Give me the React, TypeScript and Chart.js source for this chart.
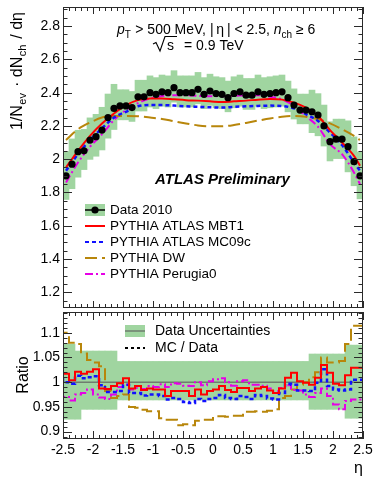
import React, { useEffect, useRef } from "react";
import { Chart, registerables } from "chart.js";

Chart.register(...registerables);

// ---------------- data ----------------
const ETA_BINS = [
  -2.45, -2.35, -2.25, -2.15, -2.05, -1.95, -1.85, -1.75, -1.65, -1.55,
  -1.45, -1.35, -1.25, -1.15, -1.05, -0.95, -0.85, -0.75, -0.65, -0.55,
  -0.45, -0.35, -0.25, -0.15, -0.05, 0.05, 0.15, 0.25, 0.35, 0.45,
  0.55, 0.65, 0.75, 0.85, 0.95, 1.05, 1.15, 1.25, 1.35, 1.45,
  1.55, 1.65, 1.75, 1.85, 1.95, 2.05, 2.15, 2.25, 2.35, 2.45,
];
const BIN_WIDTH = 0.1;

const DATA_2010 = [
  1.9, 1.97, 2.045, 2.05, 2.115, 2.135, 2.175, 2.25, 2.305, 2.32,
  2.32, 2.31, 2.375, 2.375, 2.4, 2.39, 2.405, 2.4, 2.43, 2.4,
  2.4, 2.4, 2.42, 2.39, 2.41, 2.395, 2.39, 2.37, 2.395, 2.405,
  2.385, 2.385, 2.405, 2.39, 2.395, 2.4, 2.405, 2.37, 2.325, 2.295,
  2.295, 2.285, 2.265, 2.2, 2.105, 2.12, 2.12, 2.075, 1.985, 1.9,
];

// relative data uncertainty band (as seen in the ratio panel)
const BAND_HIGH = [
  1.077, 1.077, 1.063, 1.063, 1.063, 1.063, 1.063, 1.063, 1.063, 1.042,
  1.042, 1.042, 1.042, 1.042, 1.042, 1.042, 1.042, 1.042, 1.042, 1.042,
  1.042, 1.042, 1.042, 1.042, 1.042, 1.042, 1.042, 1.042, 1.042, 1.042,
  1.042, 1.042, 1.042, 1.042, 1.042, 1.042, 1.042, 1.042, 1.042, 1.042,
  1.042, 1.057, 1.057, 1.057, 1.057, 1.057, 1.057, 1.075, 1.075, 1.075,
];
const BAND_LOW = [
  0.925, 0.925, 0.925, 0.945, 0.945, 0.945, 0.945, 0.945, 0.945, 0.964,
  0.964, 0.964, 0.964, 0.964, 0.964, 0.964, 0.964, 0.964, 0.964, 0.964,
  0.964, 0.964, 0.964, 0.964, 0.964, 0.964, 0.964, 0.964, 0.964, 0.964,
  0.964, 0.964, 0.964, 0.964, 0.964, 0.964, 0.964, 0.964, 0.964, 0.964,
  0.964, 0.945, 0.945, 0.945, 0.945, 0.945, 0.945, 0.927, 0.927, 0.927,
];

// MC curves in the upper panel
const MC_ETA = [
  -2.45, -2.25, -2.05, -1.85, -1.65, -1.45, -1.25, -1.05, -0.85, -0.65,
  -0.45, -0.25, -0.05, 0.15, 0.35, 0.55, 0.75, 0.95, 1.15, 1.35,
  1.55, 1.75, 1.95, 2.15, 2.35, 2.45,
];
const MC_MBT1 = [
  1.95, 2.05, 2.14, 2.215, 2.275, 2.325, 2.355, 2.365, 2.365, 2.36,
  2.355, 2.352, 2.348, 2.343, 2.348, 2.352, 2.358, 2.362, 2.358, 2.34,
  2.31, 2.26, 2.175, 2.1, 2.02, 1.96,
];
const MC_MC09C = [
  1.93, 2.03, 2.115, 2.185, 2.25, 2.285, 2.318, 2.325, 2.325, 2.322,
  2.318, 2.315, 2.312, 2.31, 2.315, 2.318, 2.32, 2.322, 2.32, 2.305,
  2.27, 2.23, 2.16, 2.085, 1.98, 1.93,
];
const MC_DW = [
  2.115, 2.18, 2.22, 2.25, 2.26, 2.26, 2.258, 2.25, 2.242, 2.228,
  2.215, 2.203, 2.198, 2.198, 2.205, 2.218, 2.232, 2.245, 2.255, 2.26,
  2.255, 2.24, 2.215, 2.18, 2.14, 2.115,
];
const MC_PERUGIA0 = [
  1.86, 1.98, 2.075, 2.15, 2.235, 2.295, 2.337, 2.365, 2.38, 2.385,
  2.385, 2.38, 2.378, 2.378, 2.38, 2.385, 2.385, 2.375, 2.36, 2.32,
  2.258, 2.195, 2.09, 2.03, 1.92, 1.85,
];

// MC / Data ratios per bin
const RATIO_MBT1 = [
  1.028, 1.017, 1.004, 1.021, 1.017, 1.021, 1.026, 0.987, 0.986, 0.992,
  0.998, 1.008, 0.987, 0.992, 0.984, 0.987, 0.985, 0.985, 0.972, 0.982,
  0.982, 0.982, 0.972, 0.985, 0.975, 0.982, 0.985, 0.992, 0.984, 0.98,
  0.988, 0.988, 0.982, 0.987, 0.99, 0.983, 0.978, 0.987, 1.009, 1.019,
  1.002, 0.999, 0.995, 1.009, 1.035, 1.019, 0.997, 0.994, 1.014, 1.029,
];
const RATIO_MC09C = [
  1.009, 1.0, 0.997, 1.013, 1.008, 1.01, 1.012, 0.994, 0.98, 0.98,
  0.982, 0.995, 0.978, 0.978, 0.973, 0.975, 0.975, 0.972, 0.965, 0.968,
  0.966, 0.96, 0.958, 0.966, 0.962, 0.966, 0.968, 0.974, 0.968, 0.966,
  0.972, 0.97, 0.966, 0.974, 0.972, 0.967, 0.965, 0.978, 0.997, 0.995,
  0.983, 0.983, 0.982, 0.999, 1.026, 0.992, 0.985, 0.983, 0.985, 1.005,
];
const RATIO_DW = [
  1.115, 1.1, 1.08, 1.077, 1.058, 1.045, 1.04, 1.032, 0.982, 0.968,
  0.972, 0.975, 0.95, 0.948, 0.944, 0.941, 0.941, 0.927, 0.924, 0.924,
  0.913, 0.915, 0.913, 0.922, 0.924, 0.924, 0.931, 0.931, 0.93, 0.932,
  0.932, 0.94, 0.94, 0.941, 0.94, 0.942, 0.945, 0.968, 0.972, 0.985,
  0.995, 1.0, 1.01, 1.02, 1.05, 1.04, 1.04, 1.043, 1.077, 1.114,
];
const RATIO_PERUGIA0 = [
  0.982, 0.97, 0.963, 0.975, 0.978, 0.985, 0.975, 0.969, 0.966, 0.975,
  0.99, 0.995, 0.985, 0.988, 0.986, 0.992, 0.99, 0.996, 0.99, 0.998,
  0.997, 0.993, 0.992, 1.0, 0.994, 1.002, 1.006, 1.008, 1.0, 0.993,
  1.002, 1.004, 0.995, 0.995, 0.993, 0.987, 0.982, 0.988, 0.994, 0.984,
  0.983, 0.975, 0.97, 0.978, 0.987, 0.972, 0.955, 0.945, 0.962, 0.965,
];
const RATIO_REFERENCE = 1;

// axes
const X_RANGE = [-2.5, 2.5];
const X_TICKS = [-2.5, -2, -1.5, -1, -0.5, 0, 0.5, 1, 1.5, 2, 2.5];
const TOP_Y_RANGE = [1.105, 2.915];
const TOP_Y_TICKS = [1.2, 1.4, 1.6, 1.8, 2, 2.2, 2.4, 2.6, 2.8];
const RATIO_Y_RANGE = [0.885, 1.142];
const RATIO_Y_TICKS = [0.9, 0.95, 1, 1.05, 1.1];

// ---------------- style ----------------
const FONT = "'Liberation Sans', Arial, Helvetica, sans-serif";
const AXIS_COLOR = "#2a2a2a";
const GREEN = "#a0d5a0";
const RED = "#ff0000";
const BLUE = "#1010ff";
const BROWN = "#b8860b";
const MAGENTA = "#e600e6";

type Part = { t: string; size: number; italic?: boolean; bold?: boolean; dy?: number; gap?: number };

const fontOf = (p: Part) =>
  `${p.italic ? "italic " : ""}${p.bold ? "bold " : ""}${p.size}px ${FONT}`;

function partsWidth(ctx: CanvasRenderingContext2D, parts: Part[]) {
  let w = 0;
  for (const p of parts) {
    ctx.font = fontOf(p);
    w += ctx.measureText(p.t).width + (p.gap || 0);
  }
  return w;
}

function drawParts(ctx: CanvasRenderingContext2D, x: number, y: number, parts: Part[]) {
  let cx = x;
  ctx.textAlign = "left";
  ctx.textBaseline = "alphabetic";
  for (const p of parts) {
    ctx.font = fontOf(p);
    ctx.fillText(p.t, cx, y + (p.dy || 0));
    cx += ctx.measureText(p.t).width + (p.gap || 0);
  }
  return cx;
}

function multiples(min: number, max: number, step: number) {
  const out: number[] = [];
  const a = Math.ceil(min / step - 1e-9);
  const b = Math.floor(max / step + 1e-9);
  for (let k = a; k <= b; k++) out.push(Math.round(k * step * 1e6) / 1e6);
  return out;
}
const isMultiple = (v: number, step: number) => Math.abs(v / step - Math.round(v / step)) < 1e-6;

function drawFrame(chart: any, cfg: { yMajor: number; yMinor: number; yMaj: number; yMin: number; xMaj: number; xMin: number }) {
  const { ctx, chartArea: a, scales } = chart;
  const xs = scales.x;
  const ys = scales.y;
  ctx.save();
  ctx.strokeStyle = AXIS_COLOR;
  ctx.lineWidth = 1;
  ctx.strokeRect(a.left + 0.5, a.top + 0.5, a.right - a.left - 1, a.bottom - a.top - 1);
  ctx.beginPath();
  for (const v of multiples(xs.min, xs.max, 0.1)) {
    const px = Math.round(xs.getPixelForValue(v)) + 0.5;
    const len = isMultiple(v, 0.5) ? cfg.xMaj : cfg.xMin;
    ctx.moveTo(px, a.bottom);
    ctx.lineTo(px, a.bottom - len);
    ctx.moveTo(px, a.top);
    ctx.lineTo(px, a.top + len);
  }
  for (const v of multiples(ys.min, ys.max, cfg.yMinor)) {
    const py = Math.round(ys.getPixelForValue(v)) + 0.5;
    const len = isMultiple(v, cfg.yMajor) ? cfg.yMaj : cfg.yMin;
    ctx.moveTo(a.left, py);
    ctx.lineTo(a.left + len, py);
    ctx.moveTo(a.right, py);
    ctx.lineTo(a.right - len, py);
  }
  ctx.stroke();
  ctx.restore();
}

function legendLine(ctx: CanvasRenderingContext2D, x0: number, x1: number, y: number, color: string, dash: number[], width: number) {
  ctx.save();
  ctx.strokeStyle = color;
  ctx.lineWidth = width;
  ctx.setLineDash(dash);
  ctx.beginPath();
  ctx.moveTo(x0, y);
  ctx.lineTo(x1, y);
  ctx.stroke();
  ctx.restore();
}

const DASH_MC09C = [4, 3];
const DASH_DW = [12, 5];
const DASH_PERUGIA = [8, 3, 2, 3];

const LEGEND_ROWS = [
  { label: "Data 2010", color: "#000", dash: [] as number[], data: true },
  { label: "PYTHIA ATLAS MBT1", color: RED, dash: [] as number[], data: false },
  { label: "PYTHIA ATLAS MC09c", color: BLUE, dash: DASH_MC09C, data: false },
  { label: "PYTHIA DW", color: BROWN, dash: DASH_DW, data: false },
  { label: "PYTHIA Perugia0", color: MAGENTA, dash: DASH_PERUGIA, data: false },
];

const topDecor = {
  id: "topDecor",
  afterDraw(chart: any) {
    drawFrame(chart, { yMajor: 0.2, yMinor: 0.05, yMaj: 9, yMin: 4.5, xMaj: 7, xMin: 4 });
    const ctx: CanvasRenderingContext2D = chart.ctx;
    ctx.save();
    ctx.fillStyle = "#000";

    // y-axis title (rotated, aligned to the top end of the axis)
    const title: Part[] = [
      { t: "1/N", size: 16, gap: 0.5 },
      { t: "ev", size: 11, dy: 4, gap: 6 },
      { t: "\u00B7 dN", size: 16, gap: 0.5 },
      { t: "ch", size: 11, dy: 4, gap: 6 },
      { t: "/ d\u03B7", size: 16 },
    ];
    const w = partsWidth(ctx, title);
    ctx.save();
    ctx.translate(22, 12 + w);
    ctx.rotate(-Math.PI / 2);
    drawParts(ctx, 0, 0, title);
    ctx.restore();

    // annotation
    drawParts(ctx, 117, 33.5, [
      { t: "p", size: 14, italic: true },
      { t: "T", size: 10, dy: 4, gap: 0.5 },
      { t: " > 500 MeV, |\u2009\u03B7\u2009| < 2.5, ", size: 14 },
      { t: "n", size: 14, italic: true },
      { t: "ch", size: 10, dy: 4 },
      { t: " \u2265 6", size: 14 },
    ]);
    // sqrt(s)
    ctx.save();
    ctx.strokeStyle = "#000";
    ctx.lineWidth = 1.1;
    ctx.beginPath();
    ctx.moveTo(153, 44);
    ctx.lineTo(156, 42.5);
    ctx.lineTo(160, 51);
    ctx.lineTo(165, 36.5);
    ctx.lineTo(177, 36.5);
    ctx.stroke();
    ctx.restore();
    drawParts(ctx, 167, 50, [{ t: "s", size: 14 }]);
    drawParts(ctx, 184, 50, [{ t: "= 0.9 TeV", size: 14 }]);

    drawParts(ctx, 155, 183.5, [{ t: "ATLAS Preliminary", size: 15, bold: true, italic: true }]);

    // legend
    LEGEND_ROWS.forEach((r, i) => {
      const y = 210 + i * 16;
      if (r.data) {
        ctx.fillStyle = GREEN;
        ctx.fillRect(85, y - 6, 20, 12);
        legendLine(ctx, 85, 105, y, "#000", [], 1.5);
        ctx.fillStyle = "#000";
        ctx.beginPath();
        ctx.arc(95, y, 3.6, 0, Math.PI * 2);
        ctx.fill();
      } else {
        legendLine(ctx, 85, 105, y, r.color, r.dash, 2);
      }
      ctx.fillStyle = "#000";
      ctx.font = `13.5px ${FONT}`;
      ctx.textBaseline = "middle";
      ctx.textAlign = "left";
      ctx.fillText(r.label, 110, y + 0.5);
    });
    ctx.restore();
  },
};

const bottomDecor = {
  id: "bottomDecor",
  afterDraw(chart: any) {
    drawFrame(chart, { yMajor: 0.05, yMinor: 0.01, yMaj: 9, yMin: 4.5, xMaj: 8, xMin: 4 });
    const ctx: CanvasRenderingContext2D = chart.ctx;
    ctx.save();
    ctx.fillStyle = "#000";
    // "Ratio"
    ctx.save();
    ctx.translate(27.5, 63);
    ctx.rotate(-Math.PI / 2);
    ctx.font = `16px ${FONT}`;
    ctx.textAlign = "center";
    ctx.textBaseline = "alphabetic";
    ctx.fillText("Ratio", 0, 0);
    ctx.restore();
    // eta label
    ctx.font = `16px ${FONT}`;
    ctx.textAlign = "right";
    ctx.textBaseline = "alphabetic";
    ctx.fillText("\u03B7", 363, 161);

    // legend
    ctx.fillStyle = GREEN;
    ctx.fillRect(125, 13, 20, 12);
    legendLine(ctx, 125, 145, 19, "#6f7d6f", [], 1.5);
    legendLine(ctx, 125, 145, 36, "#000", [3, 3], 2);
    ctx.fillStyle = "#000";
    ctx.font = `14px ${FONT}`;
    ctx.textAlign = "left";
    ctx.textBaseline = "middle";
    ctx.fillText("Data Uncertainties", 155, 19);
    ctx.fillText("MC / Data", 155, 36.5);
    ctx.restore();
  },
};

const pts = (xs: number[], ys: number[]) => xs.map((x, i) => ({ x, y: ys[i] }));
const BIN_EDGES = [...ETA_BINS.map((c) => c - BIN_WIDTH / 2), ETA_BINS[ETA_BINS.length - 1] + BIN_WIDTH / 2];
const stepPts = (vals: number[]) => BIN_EDGES.map((x, i) => ({ x, y: vals[Math.min(i, vals.length - 1)] }));

const yScale = (range: number[], ticks: number[]) => ({
  type: "linear",
  min: range[0],
  max: range[1],
  grid: { display: false, drawTicks: false },
  border: { display: false },
  afterBuildTicks: (s: any) => {
    s.ticks = ticks.map((v) => ({ value: v }));
  },
  afterFit: (s: any) => {
    s.width = 63;
    s.paddingTop = 0;
    s.paddingBottom = 0;
  },
  ticks: {
    font: { family: FONT, size: 14 },
    color: "#000",
    padding: 3,
    callback: (v: any) => String(v),
  },
});

function topConfig(): any {
  const mcLine = (vals: number[], color: string, dash: number[], order: number, width = 2) => ({
    type: "line",
    data: pts(MC_ETA, vals),
    borderColor: color,
    borderWidth: width,
    borderDash: dash,
    pointRadius: 0,
    cubicInterpolationMode: "monotone",
    fill: false,
    order,
  });
  return {
    type: "line",
    data: {
      datasets: [
        {
          type: "line",
          data: pts(ETA_BINS, DATA_2010),
          showLine: false,
          pointRadius: 3.6,
          pointBackgroundColor: "#000",
          pointBorderWidth: 0,
          order: 0,
        },
        mcLine(MC_MBT1, RED, [], 1),
        mcLine(MC_MC09C, BLUE, DASH_MC09C, 2, 2.5),
        mcLine(MC_DW, BROWN, DASH_DW, 3),
        mcLine(MC_PERUGIA0, MAGENTA, DASH_PERUGIA, 4),
        {
          type: "bar",
          data: ETA_BINS.map((x, i) => ({ x, y: [DATA_2010[i] * BAND_LOW[i], DATA_2010[i] * BAND_HIGH[i]] })),
          backgroundColor: GREEN,
          borderWidth: 0,
          barPercentage: 1,
          categoryPercentage: 1,
          order: 10,
        },
      ],
    },
    options: {
      responsive: false,
      animation: false,
      devicePixelRatio: 1,
      events: [],
      layout: { padding: { left: 0, right: 11, top: 7, bottom: 0 } },
      plugins: { legend: { display: false }, tooltip: { enabled: false } },
      scales: {
        x: { type: "linear", min: X_RANGE[0], max: X_RANGE[1], display: false, offset: false },
        y: yScale(TOP_Y_RANGE, TOP_Y_TICKS),
      },
    },
    plugins: [topDecor],
  };
}

function bottomConfig(): any {
  const step = (vals: number[], color: string, dash: number[], order: number, width = 2) => ({
    type: "line",
    data: stepPts(vals),
    stepped: "after",
    borderColor: color,
    borderWidth: width,
    borderDash: dash,
    pointRadius: 0,
    fill: false,
    order,
  });
  return {
    type: "line",
    data: {
      datasets: [
        step(RATIO_MBT1, RED, [], 1, 2),
        step(RATIO_MC09C, BLUE, DASH_MC09C, 2, 2.5),
        step(RATIO_PERUGIA0, MAGENTA, DASH_PERUGIA, 3, 2),
        step(RATIO_DW, BROWN, DASH_DW, 4, 2),
        {
          type: "line",
          data: [
            { x: X_RANGE[0], y: RATIO_REFERENCE },
            { x: X_RANGE[1], y: RATIO_REFERENCE },
          ],
          borderColor: "#6f7d6f",
          borderWidth: 1.5,
          pointRadius: 0,
          order: 5,
        },
        {
          type: "bar",
          data: ETA_BINS.map((x, i) => ({ x, y: [BAND_LOW[i], BAND_HIGH[i]] })),
          backgroundColor: GREEN,
          borderWidth: 0,
          barPercentage: 1,
          categoryPercentage: 1,
          order: 10,
        },
      ],
    },
    options: {
      responsive: false,
      animation: false,
      devicePixelRatio: 1,
      events: [],
      layout: { padding: { left: 0, right: 11, top: 0, bottom: 0 } },
      plugins: { legend: { display: false }, tooltip: { enabled: false } },
      scales: {
        x: {
          type: "linear",
          min: X_RANGE[0],
          max: X_RANGE[1],
          offset: false,
          grid: { display: false, drawTicks: false },
          border: { display: false },
          afterBuildTicks: (s: any) => {
            s.ticks = X_TICKS.map((v) => ({ value: v }));
          },
          afterFit: (s: any) => {
            s.height = 40;
            s.paddingLeft = 0;
            s.paddingRight = 0;
          },
          ticks: {
            font: { family: FONT, size: 14 },
            color: "#000",
            padding: 3,
            autoSkip: false,
            maxRotation: 0,
            minRotation: 0,
            callback: (v: any) => String(v),
          },
        },
        y: yScale(RATIO_Y_RANGE, RATIO_Y_TICKS),
      },
    },
    plugins: [bottomDecor],
  };
}

export default function App() {
  const topRef = useRef<HTMLCanvasElement>(null);
  const botRef = useRef<HTMLCanvasElement>(null);
  useEffect(() => {
    const top = new Chart(topRef.current as HTMLCanvasElement, topConfig());
    const bot = new Chart(botRef.current as HTMLCanvasElement, bottomConfig());
    return () => {
      top.destroy();
      bot.destroy();
    };
  }, []);
  return (
    <div style={{ position: "absolute", left: 0, top: 0, width: 374, height: 479, background: "#fff" }}>
      <canvas
        ref={topRef}
        width={374}
        height={312}
        style={{ position: "absolute", left: 0, top: 0, width: 374, height: 312 }}
      />
      <canvas
        ref={botRef}
        width={374}
        height={167}
        style={{ position: "absolute", left: 0, top: 312, width: 374, height: 167 }}
      />
    </div>
  );
}
